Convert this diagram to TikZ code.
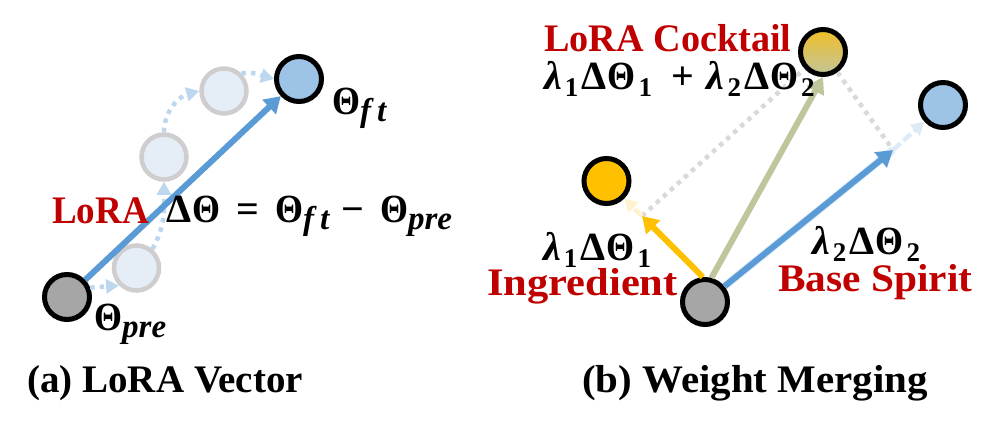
\documentclass[tikz,border=0pt]{standalone}
\usepackage{fontspec}
\setmainfont{Liberation Serif}
\usetikzlibrary{arrows.meta}
\definecolor{loraBlue}{HTML}{5B9BD5}
\definecolor{paleBlue}{HTML}{BDD7EE}
\definecolor{faintBlue}{HTML}{DEEBF7}
\definecolor{faintOrange}{HTML}{FFF2CC}
\definecolor{loraRed}{HTML}{C00000}
\definecolor{khaki}{HTML}{C1C59B}
\definecolor{amber}{HTML}{FFC000}
\definecolor{mixTop}{HTML}{F0BE28}
\definecolor{ringGray}{HTML}{CFCDCD}
\definecolor{dotGray}{HTML}{D9D9D9}
\definecolor{ghostFill}{HTML}{E5EDF7}
\definecolor{ftFill}{HTML}{9DC3E6}
\definecolor{preFill}{HTML}{A6A6A6}
\tikzset{
    weight/.style={circle, draw=black, line width=5pt, minimum size=45pt, inner sep=0pt},
    ghost/.style={circle, draw=ringGray, line width=4.5pt, fill=ghostFill, minimum size=45pt, inner sep=0pt},
    solidarrow/.style={-{Triangle[length=16pt,width=19pt]}, line width=6pt},
    steparrow/.style={-{Triangle[length=13pt,width=14pt]}, paleBlue, line width=4.5pt, dash pattern=on 4.5pt off 5pt},
    fadearrow/.style={-{Triangle[length=13pt,width=14pt]}, line width=4.5pt, dash pattern=on 10pt off 4pt},
    helper/.style={dotGray, line width=4.5pt, dash pattern=on 4.5pt off 5pt},
    redlabel/.style={loraRed, font=\fontsize{39}{42}\selectfont\bfseries, inner sep=0pt},
    formula/.style={font=\fontsize{40}{42}\selectfont\bfseries, inner sep=0pt},
    caption/.style={font=\fontsize{39}{42}\selectfont\bfseries, inner sep=0pt}
}
\newcommand{\subi}[1]{\raisebox{-7.5pt}{\fontsize{33}{34}\selectfont\itshape #1}}
\newcommand{\subn}[1]{\raisebox{-7.5pt}{\kern3pt\fontsize{27}{28}\selectfont #1\kern3pt}}
\newcommand{\lam}{\textit{λ}}
\newcommand{\gap}{\hspace{16pt}}
\newcommand{\stretched}[2]{{\addfontfeature{FakeStretch=#1}#2}}
\newcommand{\Th}{\stretched{0.9}{Θ}}
\newcommand{\Dl}{\stretched{1.0}{Δ}\kern1pt}
\begin{document}
\begin{tikzpicture}[x=1pt,y=-1pt]
    \useasboundingbox (0,0) rectangle (997,426);

    % (a) fine tuning path
    \node[ghost] (stepa) at (136.5,268) {};
    \node[ghost] (stepb) at (164,157) {};
    \node[ghost] (stepc) at (224,91) {};
    \node[weight, fill=preFill] (pre) at (67,297) {};
    \node[weight, fill=ftFill] (ft) at (299,79) {};
    \draw[steparrow] (pre.22) -- (stepa.225);
    \draw[steparrow] (stepa.50) to[out=60,in=-90] (stepb.south);
    \draw[steparrow] (stepb.north) to[out=90,in=195] (stepc.west);
    \draw[steparrow] (stepc.45) to[out=10,in=165] (ft.west);
    \draw[solidarrow, loraBlue] (pre) -- (ft);

    % (a) labels
    \node[formula, anchor=base west] (thetaft) at (332,114) {\Th\subi{f\kern6pt t}};
    \node[formula, anchor=base west] (thetapre) at (94,330) {\Th\subi{pre}};
    \node[redlabel, anchor=base west] (lora) at (52,223) {\stretched{0.95}{LoRA}};
    \node[formula, anchor=base west] (delta) at (166,222) {\Dl\Th\gap=\gap\Th\subi{f\kern6pt t}\hspace{12pt}−\gap\Th\subi{pre}};
    \node[caption, anchor=base west] (capa) at (27,392) {(a) LoRA Vector};

    % (b) merged weights
    \node[weight, fill=preFill] (base) at (705,302) {};
    \node[weight, fill=amber] (ingr) at (606.5,181) {};
    \node[weight, top color=mixTop, bottom color=khaki] (mix) at (823,52) {};
    \node[weight, fill=ftFill] (spirit) at (943,105) {};
    \coordinate (ingrtip) at (642,216);
    \coordinate (spirittip) at (893,150);
    \draw[helper] (ingrtip) -- (mix);
    \draw[helper] (mix) -- (spirittip);
    \draw[fadearrow, faintOrange] (ingrtip) -- (ingr);
    \draw[fadearrow, faintBlue] (spirittip) -- (spirit);
    \draw[faintBlue, line width=8pt] (base) -- (spirittip);
    \draw[solidarrow, amber] (base.95) -- (ingrtip);
    \draw[solidarrow, khaki] (base.75) -- (mix.south);
    \draw[solidarrow, loraBlue] (base) -- (spirittip);

    % (b) labels
    \node[redlabel, anchor=base west] (cocktail) at (544,51) {\stretched{0.98}{LoRA Cocktail}};
    \node[formula, anchor=base west] (sumlabel) at (544,89) {\lam\subn{1}\Dl\Th\subn{1}\gap+\hspace{13pt}\lam\subn{2}\Dl\Th\subn{2}};
    \node[formula, anchor=base west] (lamone) at (543,260) {\lam\subn{1}\Dl\Th\subn{1}};
    \node[redlabel, anchor=base west] (ingredient) at (487,295) {\stretched{1.09}{Ingredient}};
    \node[formula, anchor=base west] (lamtwo) at (812,254) {\lam\subn{2}\Dl\Th\subn{2}};
    \node[redlabel, anchor=base west] (spiritlabel) at (778,291) {\stretched{1.06}{Base Spirit}};
    \node[caption, anchor=base west] (capb) at (582,392) {\stretched{1.05}{(b) Weight Merging}};
\end{tikzpicture}
\end{document}
